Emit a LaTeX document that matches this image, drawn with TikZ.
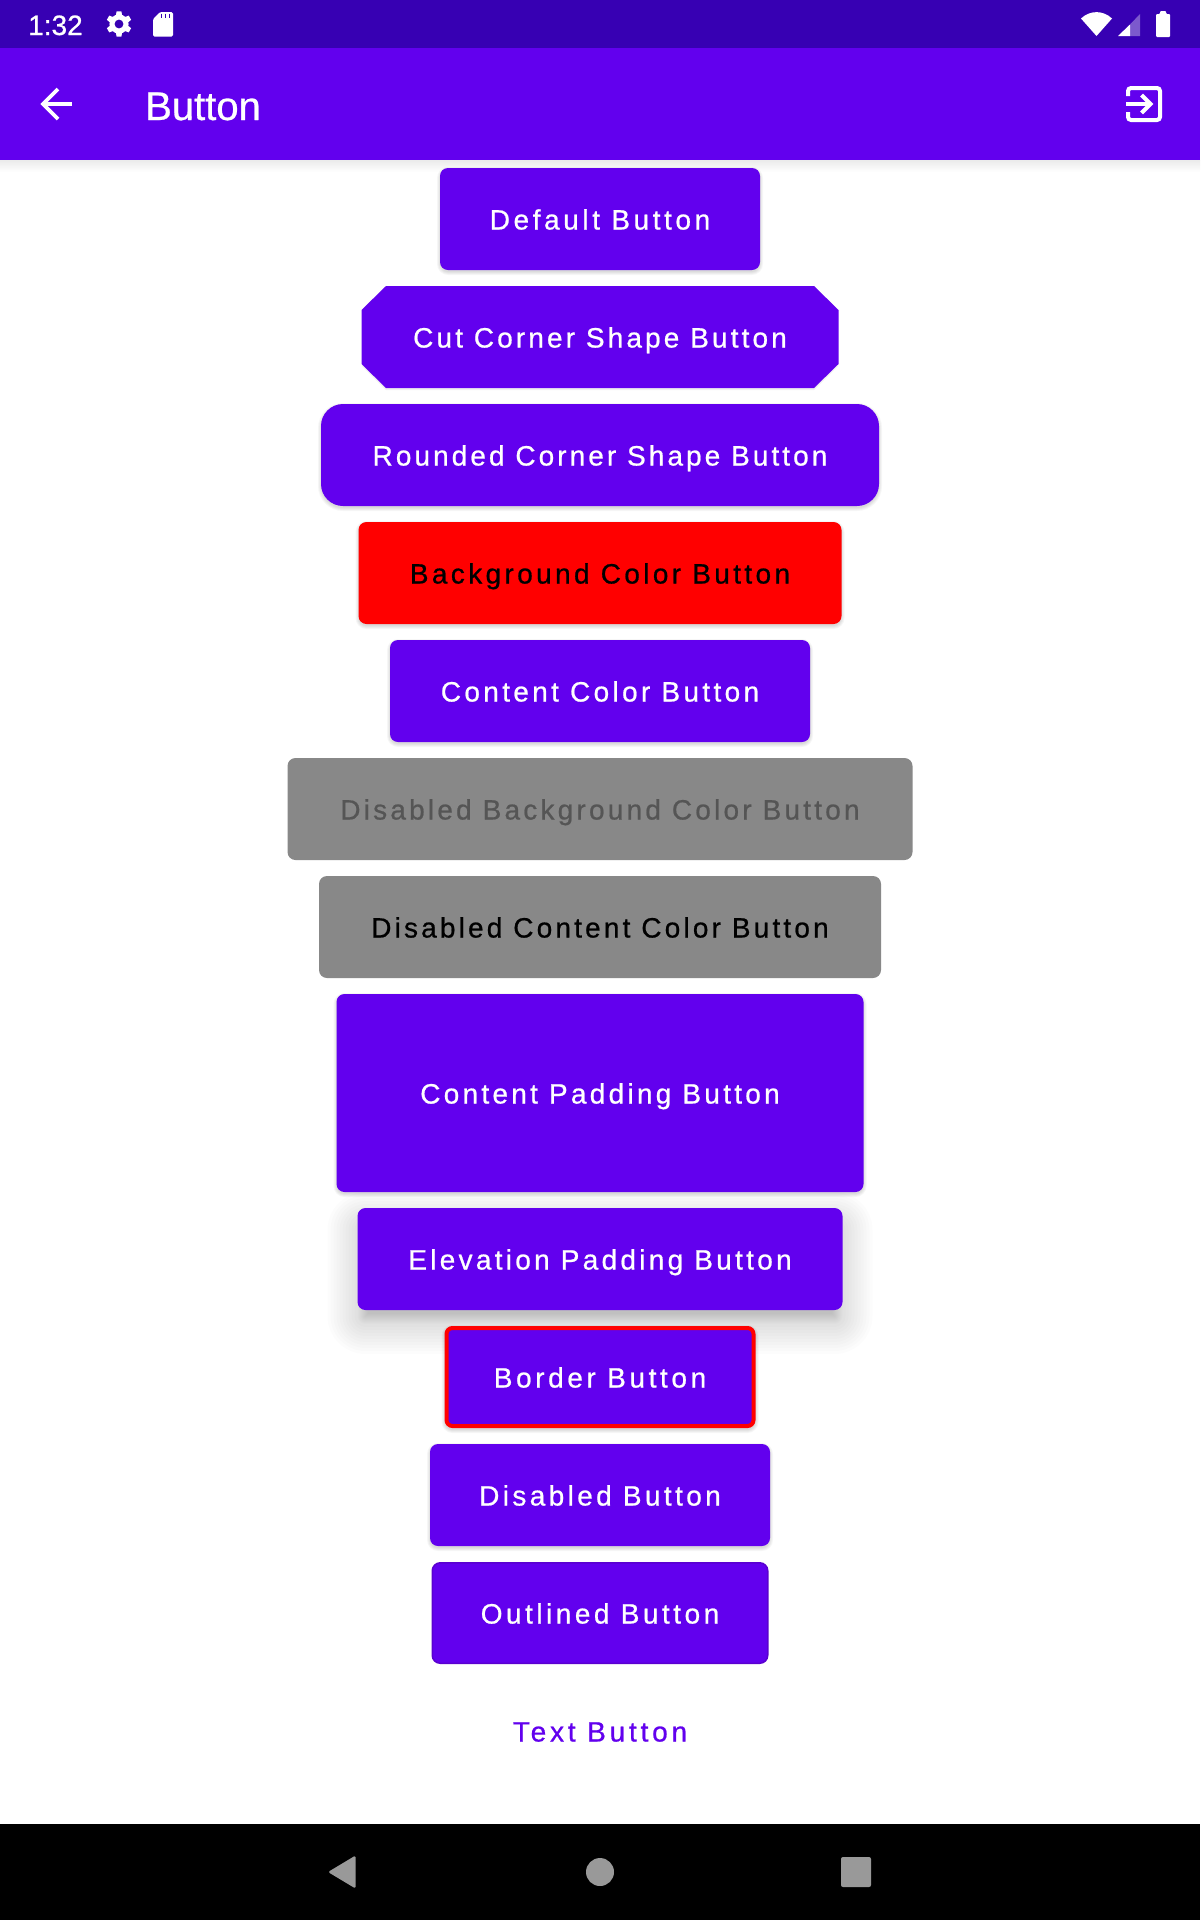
\documentclass[tikz,border=0pt]{standalone}
\usepackage{fontspec}
\setmainfont{Liberation Sans}
\newfontfamily\btnfam{Liberation Sans}[FakeBold=0.7]
\definecolor{primary}{HTML}{6200EE}
\definecolor{primarydark}{HTML}{3700B3}
\definecolor{outlinecol}{HTML}{5A00D0}
\definecolor{flatgray}{HTML}{888888}
\definecolor{dimtext}{HTML}{555555}
\definecolor{navgray}{HTML}{999999}
\newlength\tmplen
\newcommand\lab[3]{\settowidth\tmplen{#3}\pgfmathsetmacro\lsv{100*(#1+4-\tmplen)/(#2-1)/28}\addfontfeature{LetterSpace=\lsv}#3}
\newcommand\softshadow[8]{% cx cy w h dy radius list opacity
  \foreach \s in {#7}{%
    \pgfmathsetmacro\rr{max(1,#6+\s)}%
    \fill[black,fill opacity=#8,rounded corners=\rr pt]
      ({#1-#3/2-\s},{#2-#4/2+#5-\s}) rectangle ({#1+#3/2+\s},{#2+#4/2+#5+\s});
  }}
\tikzset{
  btn/.style={rectangle,rounded corners=8pt,inner sep=0pt,outer sep=0pt,minimum height=102pt,
    fill=primary,text=white,font=\btnfam\fontsize{28}{34}\selectfont,text height=21pt,text depth=0pt,align=center},
  flat/.style={btn,fill=flatgray},
  bar/.style={anchor=base west,inner sep=0pt,text=white},
  icon/.style={fill=white,draw=none},
  iconline/.style={draw=white,line width=4pt}
}
\begin{document}
\begin{tikzpicture}[x=1pt,y=-1pt]
\useasboundingbox (0,0) rectangle (1200,1920);
\fill[white] (0,0) rectangle (1200,1920);
% app bar shadow
\shade[top color=black!8,bottom color=white] (0,160) rectangle (1200,172);
% bars
\fill[primarydark] (0,0) rectangle (1200,48);
\fill[primary] (0,48) rectangle (1200,160);
\fill[black] (0,1824) rectangle (1200,1920);
% status bar
\node[bar,font=\btnfam\fontsize{28}{34}\selectfont] (clock) at (28,35) {1:32};
\begin{scope}[shift={(119,24)}]
  \foreach \a in {30,90,...,330}{\fill[white,rotate=\a] (8,-3.2) -- (12.6,-2.4) -- (12.6,2.4) -- (8,3.2) -- cycle;}
  \fill[white] (0,0) circle (9.6);
  \fill[primarydark] (0,0) circle (4.4);
\end{scope}
\fill[icon,rounded corners=1.5pt] (160,12) -- (173,12) -- (173,36.5) -- (153,36.5) -- (153,19) -- cycle;
\foreach \x in {161.5,165.5,169.5}{\draw[primarydark,line width=1.6pt] (\x,13.5) -- (\x,18);}
\fill[icon] (1096.5,36) -- (1081,18.5) .. controls (1090,10) and (1103,10) .. (1112,18.5) -- cycle;
\fill[white,fill opacity=.35] (1130,24.5) -- (1140,14) -- (1140,36) -- (1130,36) -- cycle;
\fill[icon] (1118,36) -- (1130,24.5) -- (1130,36) -- cycle;
\fill[icon,rounded corners=1pt] (1160,14) -- (1160,11) -- (1166,11) -- (1166,14) -- (1170,14) -- (1170,37) -- (1156,37) -- (1156,14) -- cycle;
% app bar
\draw[white,line width=3.6pt] (72,104) -- (43,104);
\draw[white,line width=3.6pt] (58,89) -- (43,104) -- (58,119);
\node[bar,font=\btnfam\fontsize{40}{48}\selectfont] (title) at (145,120) {Button};
\draw[iconline,rounded corners=3pt] (1128,96) -- (1128,88) -- (1160,88) -- (1160,120) -- (1128,120) -- (1128,112);
\draw[iconline] (1126,104) -- (1150,104);
\draw[iconline] (1141.5,95) -- (1150.5,104) -- (1141.5,113);
% nav bar
\fill[navgray,rounded corners=1.5pt] (328,1872) -- (355.5,1855.5) -- (355.5,1888.5) -- cycle;
\fill[navgray] (600,1872) circle (14);
\fill[navgray,rounded corners=2pt] (841,1857) rectangle (871,1887);
% shadows
\softshadow{600}{219}{320}{102}{2}{8}{3,2,1,0}{.035}
\fill[black,fill opacity=.06] (386,288) -- (814,288) -- (838,312) -- (838,366) -- (814,390) -- (386,390) -- (362,366) -- (362,312) -- cycle;
\softshadow{600}{455}{558}{102}{2}{22}{3,2,1,0}{.035}
\softshadow{600}{573}{483}{102}{2}{8}{3,2,1,0}{.035}
\softshadow{600}{691}{420}{102}{2}{8}{3,2,1,0}{.035}
\softshadow{600}{1093}{527}{198}{2}{8}{3,2,1,0}{.035}
\softshadow{600}{1259}{485}{102}{14}{8}{30,27,24,21,18,15,12,9,6,3,0,-1,-2,-3,-4,-5,-6,-7,-8,-9,-10}{.0115}
\softshadow{600}{1377}{311}{102}{2}{8}{3,2,1,0}{.035}
\softshadow{600}{1495}{340}{102}{2}{8}{3,2,1,0}{.035}
% buttons
\node[btn,minimum width=320pt] (default) at (600,219) {\lab{220}{14}{Default Button}};
\fill[primary] (386,286) -- (814,286) -- (838.5,310) -- (838.5,364) -- (814,388) -- (386,388) -- (361.5,364) -- (361.5,310) -- cycle;
\node[btn,fill=none,minimum width=478pt] (cut) at (600,337) {\lab{379}{23}{Cut Corner Shape Button}};
\node[btn,rounded corners=22pt,minimum width=558pt] (rounded) at (600,455) {\lab{460}{27}{Rounded Corner Shape Button}};
\node[btn,fill=red,text=black,minimum width=483pt] (background) at (600,573) {\lab{383}{23}{Background Color Button}};
\node[btn,minimum width=420pt] (content) at (600,691) {\lab{321}{20}{Content Color Button}};
\node[flat,text=dimtext,minimum width=625pt] (disabledbg) at (600,809) {\lab{525}{32}{Disabled Background Color Button}};
\node[flat,text=black,minimum width=562pt] (disabledcontent) at (600,927) {\lab{463}{29}{Disabled Content Color Button}};
\node[btn,minimum width=527pt,minimum height=198pt] (padding) at (600,1093) {\lab{362}{22}{Content Padding Button}};
\node[btn,minimum width=485pt] (elevation) at (600,1259) {\lab{386}{24}{Elevation Padding Button}};
\node[btn,draw=red,line width=4pt,rounded corners=6pt,minimum width=307pt,minimum height=98pt] (border) at (600,1377) {\lab{212}{13}{Border Button}};
\node[btn,minimum width=340pt] (disabled) at (600,1495) {\lab{241}{15}{Disabled Button}};
\node[btn,draw=outlinecol,line width=1.5pt,minimum width=335.5pt,minimum height=100.5pt] (outlined) at (600,1613) {\lab{238}{15}{Outlined Button}};
\node[btn,fill=none,text=primary,minimum width=240pt] (textbtn) at (600,1731) {\lab{174}{11}{Text Button}};
\end{tikzpicture}
\end{document}
